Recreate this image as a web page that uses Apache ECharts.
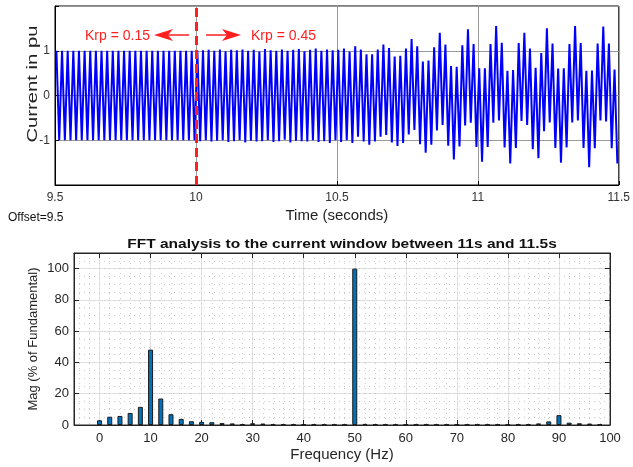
<!DOCTYPE html>
<html>
<head>
<meta charset="utf-8">
<script src="https://cdn.jsdelivr.net/npm/echarts@6/dist/echarts.min.js"></script>
<style>html,body{margin:0;padding:0;background:#fff}#c{width:633px;height:467px}</style>
</head>
<body>
<div id="c"></div>
<script>
// ---- Data: waveform extremes, one per half-cycle (50 Hz), first at 9.505 s, step 0.01 s ----
const waveStart = 9.505;
const waveStep = 0.01;
const currentA = [ // 9.5 - 10.0 s
  1,-1,1,-1,1,-1,1,-1,1,-1, 1,-1,1,-1,1,-1,1,-1,1,-1,
  1,-1,1,-1,1,-1,1,-1,1,-1, 1,-1,1,-1,1,-1,1,-1,1,-1,
  1,-1,1,-1,1,-1,1,-1,1,-1
];
const currentB = [ // 10.0 - 10.5 s
  1.00,-1.02,1.01,-1.00,1.02,-1.03,1.00,-1.01,1.03,-1.00,
  0.99,-1.04,1.02,-1.02,1.01,-1.00,1.03,-1.05,1.00,-1.01,
  1.02,-1.03,0.98,-1.02,1.04,-1.00,1.01,-1.04,1.00,-1.02,
  1.03,-0.99,1.00,-1.05,1.02,-1.01,1.04,-1.02,0.99,-1.03,
  1.02,-1.00,1.05,-1.04,1.00,-1.02,1.03,-1.06,1.01,-1.00
];
const currentC = [ // 10.5 - 11.0 s
  1.02,-1.04,1.05,-1.00,0.98,-1.06,
  1.10,-0.92,1.03,-1.03,0.92,-1.10,0.92,-1.03,1.03,-0.92,
  1.14,-0.88,1.06,-1.05,0.87,-1.13,0.89,-1.06,1.05,-0.87,
  1.26,-0.77,1.10,-1.09,0.76,-1.28,0.78,-1.10,1.08,-0.78,
  1.40,-0.66,1.14,-1.12,0.66,-1.43,0.64,-1.14,1.12,-0.67,
  1.48,-0.61,1.15,-1.15
];
const currentD = [ // 11.0 - 11.5 s
  0.61,-1.48,0.61,-1.15,1.15,-0.61,
  1.55,-0.56,1.18,-1.16,0.55,-1.52,0.57,-1.17,1.17,-0.57,
  1.40,-0.66,1.05,-1.20,0.62,-1.40,0.95,-0.80,
  1.50,-0.60,1.16,-1.17,0.60,-1.50,0.61,-1.16,1.15,-0.60,
  1.55,-0.56,1.17,-1.17,0.55,-1.60,0.56,-1.18,1.16,-0.56,
  1.54,-0.58,1.16,-1.18,0.58,-1.52
];
const switchTime = 10;

// ---- Data: FFT spectrum ----
const fftFreq = [0,2,4,6,8,10,12,14,16,18,20,22,24,26,28,30,32,34,36,38,40,42,44,46,48,
                 50,52,54,56,58,60,62,64,66,68,70,72,74,76,78,80,82,84,86,88,90,92,94,96,98];
const fftMag  = [3.0,5.3,5.8,7.7,11.6,48.2,16.9,6.9,3.9,2.4,2.0,1.8,1.2,1.0,0.5,1.1,0.9,0.5,0.4,0.4,0.4,0.4,0.3,0.3,0.3,
                 100,0.7,0.4,0.4,0.3,0.3,0.3,0.3,0.3,0.3,0.3,0.3,0.3,0.3,0.3,0.3,0.4,0.5,1.0,2.3,6.3,1.5,1.1,0.9,0.5];

// ---- Tick values ----
const fftXMajor = [0,10,20,30,40,50,60,70,80,90,100];
const fftXMinor = [-4,-2,0,2,4,6,8,10,12,14,16,18,20,22,24,26,28,30,32,34,36,38,40,42,44,46,48,50,
                   52,54,56,58,60,62,64,66,68,70,72,74,76,78,80,82,84,86,88,90,92,94,96,98,100];
const fftYMajor = [0,20,40,60,80,100];
const fftYMinor = [5,10,15,20,25,30,35,40,45,50,55,60,65,70,75,80,85,90,95,100,105];

const FONT = '"Liberation Sans", Arial, Helvetica, sans-serif';
const wave = currentA.concat(currentB, currentC, currentD);
const waveData = wave.map((v, i) => [waveStart + waveStep * i, v]);
const fftData = fftFreq.map((f, i) => [f, fftMag[i]]);

const chart = echarts.init(document.getElementById('c'), null, {renderer: 'canvas'});
const dark = '#262626';
const minorStyle = {color: '#cbcbcb', width: 1, type: [1, 4]};
const option = {
  animation: false,
  backgroundColor: '#fff',
  textStyle: {fontFamily: FONT},
  grid: [
    {left: 55, top: 6, width: 566, height: 179, show: true, borderColor: '#000', borderWidth: 1, backgroundColor: '#fff'},
    {left: 74, top: 253, width: 536, height: 172, show: true, borderColor: dark, borderWidth: 1, backgroundColor: '#fff'}
  ],
  xAxis: [
    {gridIndex: 0, type: 'value', min: 9.5, max: 11.5, interval: 0.5,
     axisLine: {onZero: false, lineStyle: {color: '#000'}},
     axisTick: {inside: true, length: 4, lineStyle: {color: '#000'}},
     axisLabel: {color: '#333', fontSize: 12, margin: 7, fontFamily: FONT},
     splitLine: {show: true, lineStyle: {color: '#9a9a9a', width: 1}},
     name: 'Time (seconds)', nameLocation: 'middle', nameGap: 23, nameMoveOverlap: false,
     nameTextStyle: {fontSize: 15, color: '#222', fontFamily: FONT}},
    {gridIndex: 1, type: 'value', min: -5, max: 100, position: 'bottom',
     axisLine: {onZero: false, lineStyle: {color: dark}},
     axisTick: {customValues: fftXMajor, inside: true, length: 5, lineStyle: {color: dark}},
     axisLabel: {customValues: fftXMajor, color: dark, fontSize: 13, margin: 7, fontFamily: FONT},
     splitLine: {show: true, lineStyle: {color: '#e2e2e2', width: 1}},
     name: 'Frequency (Hz)', nameLocation: 'middle', nameGap: 22, nameMoveOverlap: false,
     nameTextStyle: {fontSize: 15, color: dark, fontFamily: FONT}},
    {gridIndex: 1, type: 'value', min: -5, max: 100, position: 'top',
     axisLine: {onZero: false, lineStyle: {color: dark}},
     axisTick: {customValues: fftXMajor, inside: true, length: 5, lineStyle: {color: dark}},
     axisLabel: {show: false}, splitLine: {show: false}},
    {gridIndex: 1, type: 'value', min: -5, max: 100, position: 'bottom',
     axisLine: {show: false, onZero: false},
     axisTick: {show: false, customValues: fftXMinor},
     axisLabel: {show: false},
     splitLine: {show: true, lineStyle: minorStyle}}
  ],
  yAxis: [
    {gridIndex: 0, type: 'value', min: -2, max: 2, interval: 1,
     axisLine: {onZero: false, lineStyle: {color: '#000'}},
     axisTick: {inside: true, length: 4, lineStyle: {color: '#000'}},
     axisLabel: {color: '#333', fontSize: 12, margin: 5, fontFamily: FONT,
                 formatter: v => (Math.abs(v) === 2 ? '' : String(v))},
     splitLine: {show: true, lineStyle: {color: '#9a9a9a', width: 1}}},
    {gridIndex: 1, type: 'value', min: 0, max: 110, position: 'left',
     axisLine: {onZero: false, lineStyle: {color: dark}},
     axisTick: {customValues: fftYMajor, inside: true, length: 5, lineStyle: {color: dark}},
     axisLabel: {customValues: fftYMajor, color: dark, fontSize: 13, margin: 5, fontFamily: FONT},
     splitLine: {show: true, lineStyle: {color: '#e2e2e2', width: 1}},
     name: 'Mag (% of Fundamental)', nameLocation: 'middle', nameGap: 34, nameRotate: 90, nameMoveOverlap: false,
     nameTextStyle: {fontSize: 13, color: dark, fontFamily: FONT}},
    {gridIndex: 1, type: 'value', min: 0, max: 110, position: 'right',
     axisLine: {onZero: false, lineStyle: {color: dark}},
     axisTick: {customValues: fftYMajor, inside: true, length: 5, lineStyle: {color: dark}},
     axisLabel: {show: false}, splitLine: {show: false}},
    {gridIndex: 1, type: 'value', min: 0, max: 110, position: 'left',
     axisLine: {show: false, onZero: false},
     axisTick: {show: false, customValues: fftYMinor},
     axisLabel: {show: false},
     splitLine: {show: true, lineStyle: minorStyle}}
  ],
  series: [
    {type: 'line', xAxisIndex: 0, yAxisIndex: 0, data: waveData, showSymbol: false,
     sampling: 'none', lineStyle: {color: '#0000ff', width: 2}, z: 3,
     markLine: {silent: true, symbol: 'none', label: {show: false},
       lineStyle: {color: '#ff2020', width: 3, type: [9, 5]},
       data: [{xAxis: switchTime}]}},
    {type: 'bar', xAxisIndex: 1, yAxisIndex: 1, data: fftData, barWidth: 5, z: 4,
     itemStyle: {color: '#0072BD', borderColor: '#1a1a1a', borderWidth: 1}}
  ],
  graphic: [
    {type: 'text', x: 33, y: 84, rotation: Math.PI / 2, scaleX: 1.35,
     style: {text: 'Current in pu', font: '15px ' + FONT, fill: '#222', align: 'center', verticalAlign: 'middle'}},
    {type: 'text', left: 8, top: 212, style: {text: 'Offset=9.5', font: '12px ' + FONT, fill: '#111'}},
    {type: 'text', x: 342, y: 244, scaleX: 1.15,
     style: {text: 'FFT analysis to the current window between 11s and 11.5s',
      font: 'bold 13.5px ' + FONT, fill: '#111', align: 'center', verticalAlign: 'middle'}},
    {type: 'text', x: 85, y: 36, style: {text: 'Krp = 0.15', font: '14px ' + FONT, fill: '#ff2020', verticalAlign: 'middle'}, z: 10},
    {type: 'line', shape: {x1: 189, y1: 35, x2: 166, y2: 35}, style: {stroke: '#ff2020', lineWidth: 1.5}, z: 10},
    {type: 'polygon', shape: {points: [[154, 35], [173, 29], [168, 35], [173, 41]]}, style: {fill: '#ff2020'}, z: 10},
    {type: 'line', shape: {x1: 206, y1: 35, x2: 229, y2: 35}, style: {stroke: '#ff2020', lineWidth: 1.5}, z: 10},
    {type: 'polygon', shape: {points: [[241, 35], [222, 29], [227, 35], [222, 41]]}, style: {fill: '#ff2020'}, z: 10},
    {type: 'text', x: 251, y: 36, style: {text: 'Krp = 0.45', font: '14px ' + FONT, fill: '#ff2020', verticalAlign: 'middle'}, z: 10}
  ]
};
chart.setOption(option);
</script>
</body>
</html>
